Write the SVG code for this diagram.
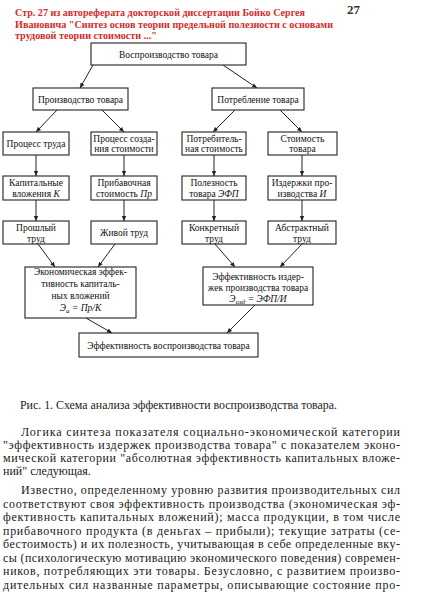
<svg xmlns="http://www.w3.org/2000/svg" width="427" height="600" viewBox="0 0 427 600">
<defs>
<marker id="ar" markerWidth="6" markerHeight="6" refX="5" refY="3" orient="auto" markerUnits="userSpaceOnUse">
<path d="M0,0.8 L5,3 L0,5.2 Z" fill="#222"/>
</marker>
<style>
.box{fill:#fff;stroke:#222;stroke-width:1.1}
.t{font-family:"Liberation Serif","DejaVu Serif",serif;font-size:9.5px;fill:#111;text-anchor:middle}
.i{font-style:italic}
.c line{stroke:#222;stroke-width:1;marker-end:url(#ar)}
.hd{font-family:"Liberation Serif","Times New Roman",serif;font-size:11px;font-weight:bold;fill:#d42a2a}
.b{font-family:"Liberation Serif","DejaVu Serif",serif;font-size:12px;fill:#1a1a1a}
</style>
</defs>
<rect width="427" height="600" fill="#fff"/>
<g id="header">
<text class="hd" x="15" y="16" textLength="290" lengthAdjust="spacingAndGlyphs">Стр. 27 из автореферата докторской диссертации Бойко Сергея</text>
<text class="hd" x="15" y="28" textLength="318" lengthAdjust="spacingAndGlyphs">Ивановича "Синтез основ теории предельной полезности с основами</text>
<text class="hd" x="15" y="39" textLength="142" lengthAdjust="spacingAndGlyphs">трудовой теории стоимости ..."</text>
<text x="347" y="14" font-family="Liberation Serif,serif" font-size="13" font-weight="bold" fill="#333">27</text>
</g>
<g class="c" id="connectors">
<line x1="93" y1="65" x2="80" y2="88"/>
<line x1="223" y1="65" x2="257" y2="88"/>
<line x1="57" y1="110" x2="36" y2="132"/>
<line x1="102" y1="110" x2="124" y2="132"/>
<line x1="235" y1="110" x2="213" y2="132"/>
<line x1="280" y1="110" x2="302" y2="132"/>
<line x1="36" y1="155" x2="36" y2="176"/>
<line x1="124" y1="155" x2="124" y2="176"/>
<line x1="214" y1="155" x2="214" y2="176"/>
<line x1="302" y1="155" x2="302" y2="176"/>
<line x1="36" y1="200" x2="36" y2="221"/>
<line x1="124" y1="200" x2="124" y2="221"/>
<line x1="214" y1="200" x2="214" y2="221"/>
<line x1="302" y1="200" x2="302" y2="221"/>
<line x1="38" y1="244" x2="55" y2="267"/>
<line x1="115" y1="244" x2="98" y2="267"/>
<line x1="215" y1="244" x2="235" y2="267"/>
<line x1="302" y1="244" x2="280" y2="267"/>
<line x1="86" y1="318" x2="112" y2="333"/>
<line x1="255" y1="305" x2="227" y2="333"/>
</g>
<g id="n-vospr"><rect class="box" x="91" y="43" width="155" height="22"/><text class="t" x="168.5" y="57.5">Воспроизводство товара</text></g>
<g id="n-proizv"><rect class="box" x="33" y="88" width="95" height="22"/><text class="t" x="80.5" y="102.5">Производство товара</text></g>
<g id="n-potr"><rect class="box" x="212" y="88" width="92" height="22"/><text class="t" x="258" y="102.5">Потребление товара</text></g>
<g id="n-ptruda"><rect class="box" x="3" y="132" width="66" height="23"/><text class="t" x="36" y="146.5">Процесс труда</text></g>
<g id="n-psozd"><rect class="box" x="91" y="132" width="66" height="23"/><text class="t" x="124" y="141.5">Процесс созда-</text><text class="t" x="124" y="152">ния стоимости</text></g>
<g id="n-potrst"><rect class="box" x="182" y="132" width="64" height="23"/><text class="t" x="214" y="141.5">Потребитель-</text><text class="t" x="214" y="152">ная стоимость</text></g>
<g id="n-stoim"><rect class="box" x="268" y="132" width="69" height="23"/><text class="t" x="302.5" y="141.5">Стоимость</text><text class="t" x="302.5" y="152">товара</text></g>
<g id="n-kap"><rect class="box" x="3" y="176" width="66" height="24"/><text class="t" x="36" y="186">Капитальные</text><text class="t" x="36" y="197">вложения <tspan class="i">К</tspan></text></g>
<g id="n-prib"><rect class="box" x="91" y="176" width="66" height="24"/><text class="t" x="124" y="186">Прибавочная</text><text class="t" x="124" y="197">стоимость <tspan class="i">Пр</tspan></text></g>
<g id="n-polez"><rect class="box" x="182" y="176" width="64" height="24"/><text class="t" x="214" y="186">Полезность</text><text class="t" x="214" y="197">товара <tspan class="i">ЭФП</tspan></text></g>
<g id="n-izd"><rect class="box" x="268" y="176" width="68" height="24"/><text class="t" x="302" y="186">Издержки про-</text><text class="t" x="302" y="197">изводства <tspan class="i">И</tspan></text></g>
<g id="n-proshl"><rect class="box" x="3" y="221" width="66" height="23"/><text class="t" x="36" y="230.5">Прошлый</text><text class="t" x="36" y="241.5">труд</text></g>
<g id="n-zhiv"><rect class="box" x="91" y="221" width="66" height="23"/><text class="t" x="124" y="236">Живой труд</text></g>
<g id="n-konkr"><rect class="box" x="182" y="221" width="64" height="23"/><text class="t" x="214" y="230.5">Конкретный</text><text class="t" x="214" y="241.5">труд</text></g>
<g id="n-abstr"><rect class="box" x="268" y="221" width="68" height="23"/><text class="t" x="302" y="230.5">Абстрактный</text><text class="t" x="302" y="241.5">труд</text></g>
<g id="n-econ"><rect class="box" x="25" y="267" width="111" height="51"/><text class="t" x="80.5" y="275">Экономическая эффек-</text><text class="t" x="80.5" y="287">тивность капиталь-</text><text class="t" x="80.5" y="299">ных вложений</text><text class="t i" x="80.5" y="311">Э<tspan font-size="7" dy="2">а</tspan><tspan dy="-2"> = Пр/К</tspan></text></g>
<g id="n-effizd"><rect class="box" x="203" y="267" width="110" height="38"/><text class="t" x="258" y="280">Эффективность издер-</text><text class="t" x="258" y="291">жек производства товара</text><text class="t i" x="258" y="302">Э<tspan font-size="7" dy="2">изд</tspan><tspan dy="-2"> = ЭФП/И</tspan></text></g>
<g id="n-effvospr"><rect class="box" x="79" y="333" width="179" height="24"/><text class="t" x="168.5" y="348.5">Эффективность воспроизводства товара</text></g>
<g id="body">
<text class="b" x="20" y="409" textLength="317" lengthAdjust="spacingAndGlyphs">Рис. 1. Схема анализа эффективности воспроизводства товара.</text>
<text class="b" x="21" y="436" textLength="379" lengthAdjust="spacing">Логика синтеза показателя социально-экономической категории</text>
<text class="b" x="3" y="449" textLength="397" lengthAdjust="spacing">"эффективность издержек производства товара" с показателем эконо-</text>
<text class="b" x="3" y="462" textLength="397" lengthAdjust="spacing">мической категории "абсолютная эффективность капитальных вложе-</text>
<text class="b" x="3" y="475">ний" следующая.</text>
<text class="b" x="21" y="494" textLength="379" lengthAdjust="spacing">Известно, определенному уровню развития производительных сил</text>
<text class="b" x="3" y="507.5" textLength="397" lengthAdjust="spacing">соответствуют своя эффективность производства (экономическая эф-</text>
<text class="b" x="3" y="521" textLength="397" lengthAdjust="spacing">фективность капитальных вложений); масса продукции, в том числе</text>
<text class="b" x="3" y="534.5" textLength="397" lengthAdjust="spacing">прибавочного продукта (в деньгах – прибыли); текущие затраты (се-</text>
<text class="b" x="3" y="548" textLength="397" lengthAdjust="spacing">бестоимость) и их полезность, учитывающая в себе определенные вку-</text>
<text class="b" x="3" y="561.5" textLength="397" lengthAdjust="spacing">сы (психологическую мотивацию экономического поведения) современ-</text>
<text class="b" x="3" y="575" textLength="397" lengthAdjust="spacing">ников, потребляющих эти товары. Безусловно, с развитием произво-</text>
<text class="b" x="3" y="588.5" textLength="397" lengthAdjust="spacing">дительных сил названные параметры, описывающие состояние про-</text>
</g>
</svg>
